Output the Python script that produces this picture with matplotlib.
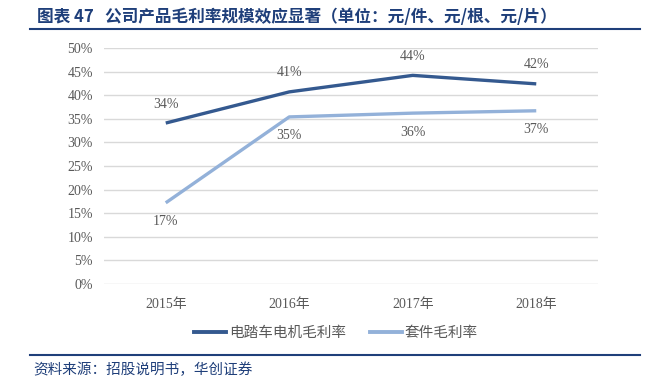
import matplotlib
matplotlib.use("Agg")
import matplotlib.pyplot as plt
from matplotlib.lines import Line2D

years = ["2015年", "2016年", "2017年", "2018年"]
motor_margin = [34.1, 40.7, 44.2, 42.4]
kit_margin = [17.2, 35.4, 36.2, 36.7]
motor_labels = ["34%", "41%", "44%", "42%"]
kit_labels = ["17%", "35%", "36%", "37%"]
yticks = [0, 5, 10, 15, 20, 25, 30, 35, 40, 45, 50]

dark = "#34598F"
light = "#93B1D9"
gray = "#595959"
navy = "#1F3F7A"

serif = ["Liberation Serif", "Noto Sans CJK SC"]
cjk = ["Noto Sans CJK SC", "DejaVu Sans"]

fig = plt.figure(figsize=(6.45, 3.8), dpi=100)
ax = fig.add_axes([104/645, 1-284/380, 494/645, (284-48)/380])

x = list(range(len(years)))
ax.plot(x, motor_margin, color=dark, lw=2.4, solid_capstyle="butt", zorder=3)
ax.plot(x, kit_margin, color=light, lw=2.4, solid_capstyle="butt", zorder=3)

for i in x:
    ax.annotate(motor_labels[i], (i, motor_margin[i]), xytext=(0, 9), textcoords="offset points",
                ha="center", va="bottom", fontsize=10, color=gray, family=serif)
    ax.annotate(kit_labels[i], (i, kit_margin[i]), xytext=(0, -9), textcoords="offset points",
                ha="center", va="top", fontsize=10, color=gray, family=serif)

ax.set_xlim(-0.5, len(years)-0.5)
ax.set_ylim(0, 50)
ax.set_yticks(yticks)
ax.set_yticklabels([f"{v}%" for v in yticks], family=serif, fontsize=10, color=gray)
ax.set_xticks(x)
ax.set_xticklabels(years, family=serif, fontsize=10, color=gray)
ax.tick_params(length=0)
ax.tick_params(axis="y", pad=8)
ax.tick_params(axis="x", pad=10)
ax.grid(axis="y", color="#D9D9D9", lw=1)
ax.set_axisbelow(True)
for s in ax.spines.values():
    s.set_visible(False)

handles = [Line2D([], [], color=dark, lw=2.8), Line2D([], [], color=light, lw=2.8)]
leg = fig.legend(handles, ["电踏车电机毛利率", "套件毛利率"], loc="center",
                 bbox_to_anchor=(336/645, 1-333/380), ncol=2, frameon=False,
                 prop={"family": cjk, "size": 10.5}, handlelength=2.2, columnspacing=1.6,
                 handletextpad=0.2)
for t in leg.get_texts():
    t.set_color(gray)

fig.text(37/645, 1-17/380, "图表 47   公司产品毛利率规模效应显著（单位：元/件、元/根、元/片）",
         family=cjk, fontsize=12, fontweight="bold", color=navy, va="center", ha="left")
fig.add_artist(Line2D([30/645, 640/645], [1-29/380, 1-29/380], color=navy, lw=1.5))
fig.add_artist(Line2D([30/645, 640/645], [1-355/380, 1-355/380], color=navy, lw=1.5))
fig.text(33/645, 1-370/380, "资料来源：招股说明书，华创证券", family=cjk, fontsize=10.5,
         color=navy, va="center", ha="left", style="italic")

fig.savefig("out.png", dpi=100)
